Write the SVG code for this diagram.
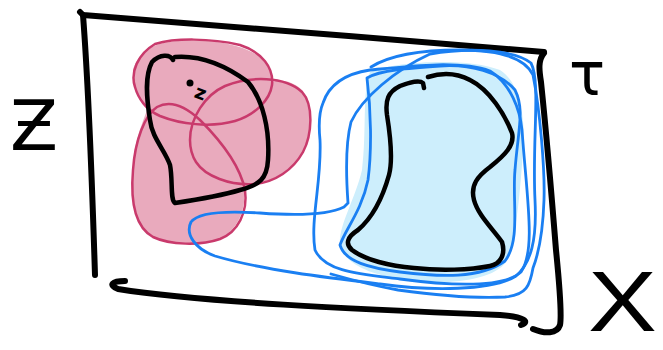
<svg xmlns="http://www.w3.org/2000/svg" width="663" height="350" viewBox="0 0 663 350">
<style>
.frame{fill:none;stroke:#000;stroke-width:6;stroke-linecap:round;stroke-linejoin:round}
.ink{fill:none;stroke:#000;stroke-width:4.5;stroke-linecap:round;stroke-linejoin:round}
.pinkfill{fill:#e9aabd;stroke:none}
.pinkline{fill:none;stroke:#c93a6c;stroke-width:2.5;stroke-linecap:round}
.bluefill{fill:#cdeefc;stroke:none}
.blueline{fill:none;stroke:#1a7ff2;stroke-width:2.8;stroke-linecap:round;stroke-linejoin:round}
.lbl{font-family:"DejaVu Sans","Liberation Sans",sans-serif;fill:#000}
</style>
<rect width="663" height="350" fill="#fff"/>
<g id="frame">
<path class="frame" d="M80,12 L83,15 C200,24 400,40 544,52"/>
<path class="frame" d="M544,53 C538,60 539,70 541,82 C546,130 552,200 556,250 C560,290 562,315 560,325 C557,334 545,334 533,329"/>
<path class="frame" d="M83,15 C88,80 92,180 95,275"/>
<path class="frame" d="M125,281 C112,281 108,285 118,289 C200,302 350,309 500,315 C525,317 530,322 521,325"/>
</g>
<g id="region-z">
<path class="pinkfill" d="M133,70 C136,58 148,44 170,42 C200,38 240,42 260,57 C270,66 274,76 272,82 C285,78 300,84 307,97 C314,115 310,140 303,152 C295,168 280,178 262,182 C250,184 246,186 244,190 C246,210 238,228 222,238 C205,246 170,246 153,237 C136,226 130,200 133,165 C135,140 140,130 147,110 C138,98 132,85 133,70 Z"/>
<path class="pinkline" d="M135,87 C130,72 138,54 155,44 C175,38 210,38 240,45 C262,52 274,68 272,85 C270,100 255,115 235,121 C210,128 180,124 160,116 C146,110 138,98 135,87 Z"/>
<path class="pinkline" d="M190,140 C190,118 205,95 225,86 C250,76 285,76 302,92 C314,105 312,135 303,152 C293,170 275,182 255,184 C230,186 205,176 196,162 C191,154 190,147 190,140 Z"/>
<path class="pinkline" d="M157,107 C170,100 185,106 200,120 C220,140 240,165 245,190 C248,212 238,232 220,239 C200,246 170,245 153,237 C137,228 130,205 133,170 C135,140 145,115 157,107 Z"/>
<path class="ink" d="M175,57 C200,55 225,65 248,82 C263,100 270,130 268,160 C267,178 260,185 240,190 C220,196 195,200 175,203 C170,200 173,180 170,165 C165,150 152,138 150,120 C146,95 145,75 152,62 C160,54 170,54 173,60"/>
<circle cx="190" cy="83" r="3.5" fill="#000"/>
<text class="lbl" x="195" y="99" font-size="19" font-weight="bold" transform="rotate(20 200 93)">z</text>
</g>
<g id="region-x">
<path class="bluefill" d="M370,72 C400,60 470,58 500,70 C520,82 526,120 523,150 C520,195 516,240 506,262 C492,282 440,286 400,279 C368,274 345,263 340,246 C338,226 355,200 362,170 C367,130 362,92 370,72 Z"/>
<path class="blueline" d="M348,203 C346,175 345,145 351,122 C362,98 395,70 430,54 C470,47 515,50 531,63 C541,82 532,140 535,200 C537,240 531,263 516,276 C492,291 430,291 380,284 C330,278 262,270 215,256 C195,249 185,234 191,222 C199,211 230,211 260,213 C300,216 330,214 344,207 C348,203 348,203 348,203"/>
<path class="blueline" d="M323,103 C330,82 350,73 370,70 C410,66 460,60 490,71 C511,84 520,110 522,130 C527,200 536,250 521,272 C500,291 430,283 400,279 C360,274 325,272 315,250 C310,220 322,180 320,140 C318,120 320,110 323,103 Z"/>
<path class="blueline" d="M367,78 C371,110 372,150 368,180 C362,210 345,230 340,245 C345,262 370,268 400,272 C440,277 480,279 505,261 C521,240 512,200 515,170 C518,130 525,110 515,90 C500,72 470,64 440,66 C410,68 380,70 367,78 Z"/>
<path class="blueline" d="M371,67 C390,55 420,50 460,50 C500,50 525,58 533,75 C540,110 545,170 544,200 C543,230 538,255 533,268 C530,285 527,295 505,297 C470,299 420,293 398,290 C370,285 345,278 331,274"/>
<path class="ink" d="M428,77 C440,73 455,72 470,80 C490,90 505,115 512,133 C515,145 505,155 490,167 C478,176 470,185 474,200 C478,215 492,228 502,242 C506,255 500,264 490,266 C470,270 440,271 414,268 C390,266 365,260 352,250 C345,244 347,237 358,230 C372,218 382,200 389,175 C393,160 391,140 387,115 C385,100 388,92 400,86 C410,82 420,80 423,83 L424,88"/>
</g>
<g id="labels">
<text class="lbl" x="10" y="150" font-size="70">Ƶ</text>
<text class="lbl" x="569" y="95" font-size="60">τ</text>
<text x="0" y="0" font-size="86" font-family="'Liberation Sans',Arial,sans-serif" fill="#000" transform="translate(588,331) scale(1.2,1)">X</text>
</g>
</svg>
